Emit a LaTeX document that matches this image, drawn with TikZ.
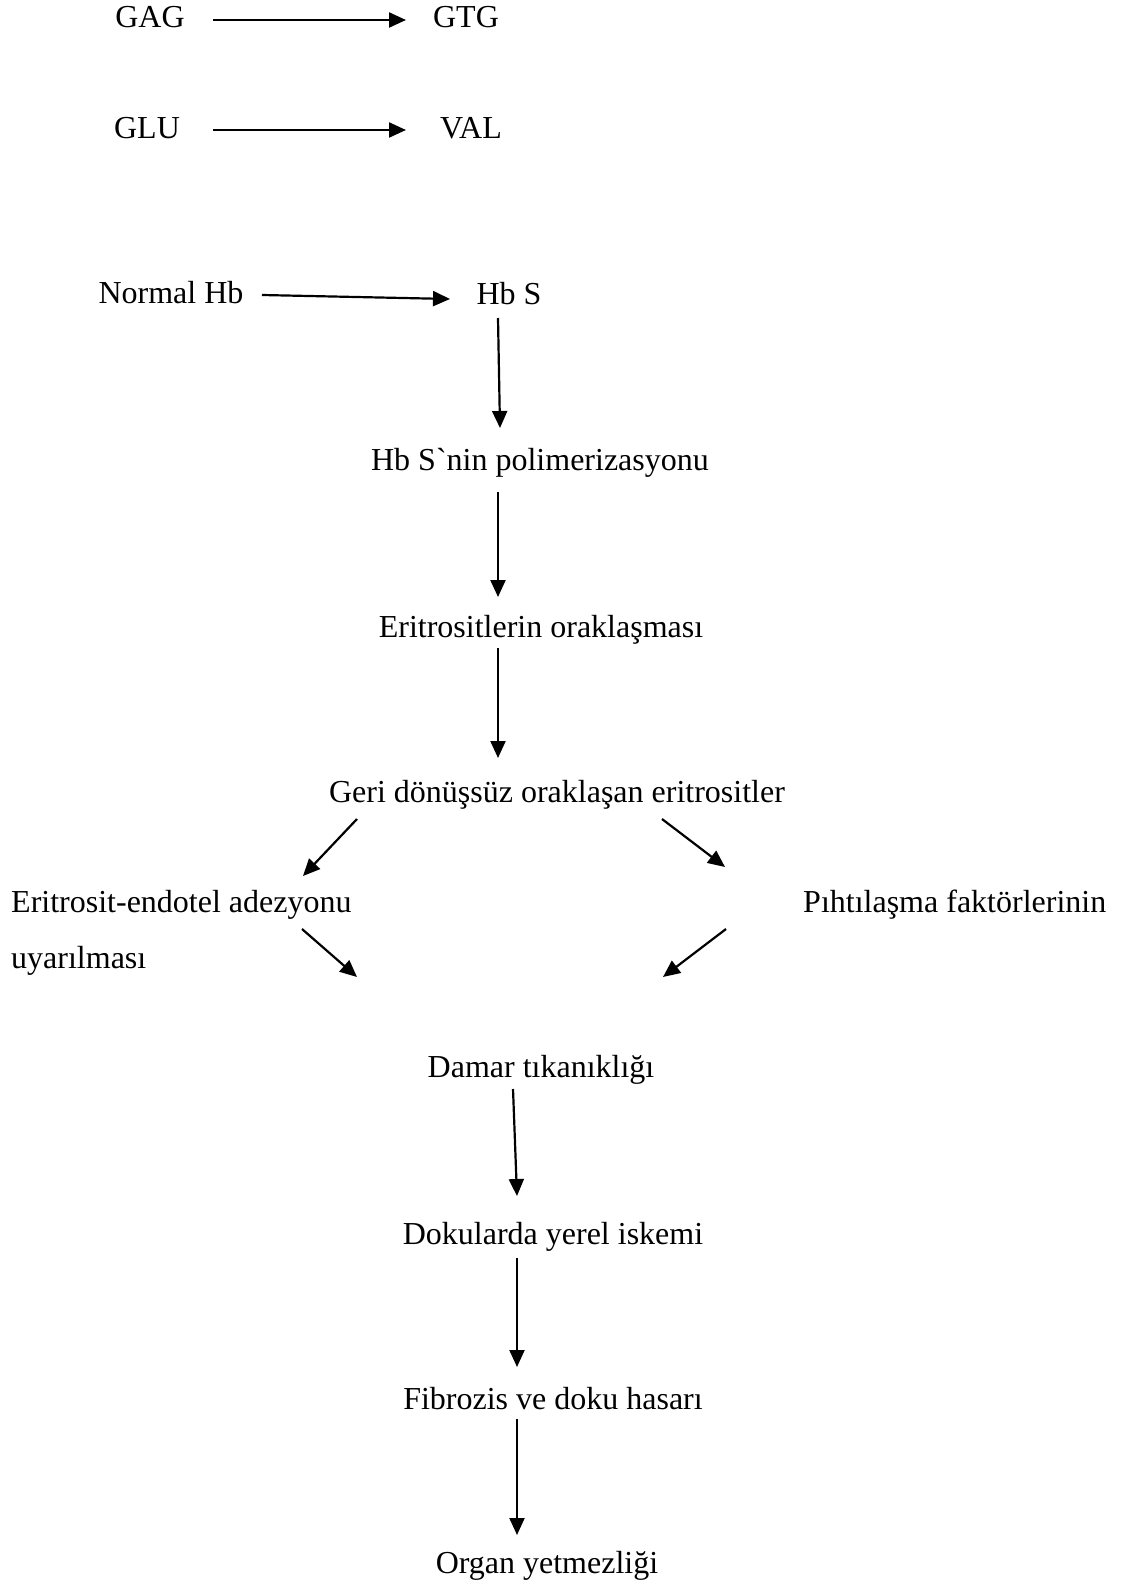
\documentclass[tikz,border=0pt]{standalone}
\usepackage{fontspec}
\setmainfont{Liberation Serif}[Ligatures=TeXOff]
\usetikzlibrary{arrows.meta}
\begin{document}
\begin{tikzpicture}[x=1pt,y=-1pt,
  lbl/.style={inner sep=0pt, anchor=base, font=\fontsize{32}{38}\selectfont},
  lbll/.style={lbl, anchor=base west},
  arr/.style={line width=2.2pt, -{Triangle[length=17pt,width=15pt]}}]
\useasboundingbox[fill=white] (0,0) rectangle (1127,1586);
% labels
\node[lbl] (gag) at (150,28) {GAG};
\node[lbl] (gtg) at (466,28) {GTG};
\node[lbl] (glu) at (147,139) {GLU};
\node[lbl] (val) at (471,139) {VAL};
\node[lbl] (nhb) at (171,304) {Normal Hb};
\node[lbl] (hbs) at (509,305) {Hb S};
\node[lbl] (poly) at (540,470) {Hb S`nin polimerizasyonu};
\node[lbl] (orak) at (541,637) {Eritrositlerin oraklaşması};
\node[lbl] (geri) at (557,802) {Geri dönüşsüz oraklaşan eritrositler};
\node[lbll] (adez) at (11,912) {Eritrosit-endotel adezyonu};
\node[lbll] (uyar) at (11,968) {uyarılması};
\node[lbll] (piht) at (803,912) {Pıhtılaşma faktörlerinin};
\node[lbl] (damar) at (541,1077) {Damar tıkanıklığı};
\node[lbl] (doku) at (553,1244) {Dokularda yerel iskemi};
\node[lbl] (fib) at (553,1409) {Fibrozis ve doku hasarı};
\node[lbl] (org) at (547,1573) {Organ yetmezliği};
% connector end points
\coordinate (a1s) at (213,20);  \coordinate (a1e) at (406,20);
\coordinate (a2s) at (213,130); \coordinate (a2e) at (406,130);
\coordinate (a3s) at (262,295); \coordinate (a3e) at (450,299);
\coordinate (a4s) at (498,318); \coordinate (a4e) at (500,428);
\coordinate (a5s) at (498,492); \coordinate (a5e) at (498,597);
\coordinate (a6s) at (498,648); \coordinate (a6e) at (498,758);
\coordinate (l1s) at (357,819); \coordinate (l1e) at (303,876);
\coordinate (r1s) at (662,819); \coordinate (r1e) at (725,867);
\coordinate (l2s) at (302,929); \coordinate (l2e) at (357,977);
\coordinate (r2s) at (726,929); \coordinate (r2e) at (663,977);
\coordinate (a7s) at (513,1089); \coordinate (a7e) at (517,1196);
\coordinate (a8s) at (517,1258); \coordinate (a8e) at (517,1367);
\coordinate (a9s) at (517,1419); \coordinate (a9e) at (517,1535);
% connectors
\draw[arr] (a1s) -- (a1e);
\draw[arr] (a2s) -- (a2e);
\draw[arr] (a3s) -- (a3e);
\draw[arr] (a4s) -- (a4e);
\draw[arr] (a5s) -- (a5e);
\draw[arr] (a6s) -- (a6e);
\draw[arr] (l1s) -- (l1e);
\draw[arr] (r1s) -- (r1e);
\draw[arr] (l2s) -- (l2e);
\draw[arr] (r2s) -- (r2e);
\draw[arr] (a7s) -- (a7e);
\draw[arr] (a8s) -- (a8e);
\draw[arr] (a9s) -- (a9e);
\end{tikzpicture}
\end{document}
